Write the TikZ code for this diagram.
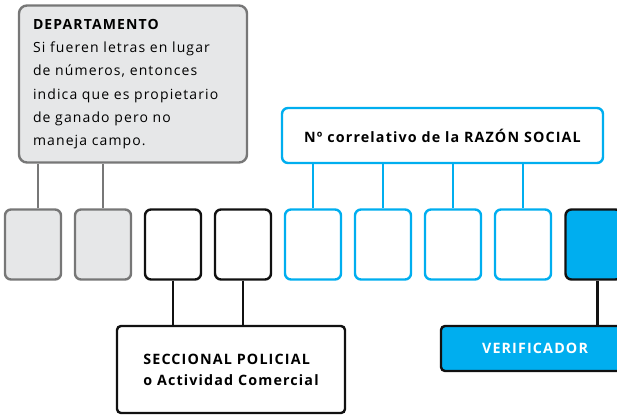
\documentclass[tikz,border=0pt]{standalone}
\usepackage{fontspec}
\setmainfont{Open Sans}[LetterSpace=8]
\usepackage{xcolor}

\definecolor{boxgray}{HTML}{E6E7E8}
\definecolor{linegray}{HTML}{777777}
\definecolor{skyblue}{HTML}{00AEEF}
\definecolor{inkblack}{HTML}{111111}

\tikzset{
  cell/.style={draw, line width=2.4pt, rounded corners=6pt,
    minimum width=56pt, minimum height=70pt, inner sep=0pt},
  graycell/.style={cell, draw=linegray, fill=boxgray},
  blackcell/.style={cell, draw=inkblack, fill=white},
  bluecell/.style={cell, draw=skyblue, fill=white},
  label/.style={draw, line width=2.4pt, rounded corners=6pt, inner sep=0pt},
  boldtext/.style={font=\fontsize{14.3}{21}\selectfont\bfseries},
  grayline/.style={draw=linegray, line width=2.4pt},
  blueline/.style={draw=skyblue, line width=2.4pt},
  blackline/.style={draw=inkblack, line width=2.4pt}
}

\begin{document}
\begin{tikzpicture}[x=1pt, y=-1pt, font=\fontsize{14}{23.3}\selectfont]
            \useasboundingbox (0,0) rectangle (617,415);
            \clip (0,0) rectangle (617,415);

            % Cuadro del departamento
            \node[label, draw=linegray, fill=boxgray, rounded corners=8pt,
              minimum width=228pt, minimum height=157pt,
              text width=200pt, align=left] (dep) at (133,84)
              {\textbf{DEPARTAMENTO}\\
               Si fueren letras en lugar\\
               de números, entonces\\
               indica que es propietario\\
               de ganado pero no\\
               maneja campo.};

            % Cuadro de la razon social
            \node[label, draw=skyblue, fill=white, minimum width=321pt,
              minimum height=55pt, boldtext] (raz) at (442.5,135.5)
              {Nº correlativo de la RAZÓN SOCIAL};

            % Casilleros
            \node[graycell] (c1) at (33,244.5) {};
            \node[graycell] (c2) at (103,244.5) {};
            \node[blackcell] (c3) at (173,244.5) {};
            \node[blackcell] (c4) at (243,244.5) {};
            \node[bluecell] (c5) at (313,244.5) {};
            \node[bluecell] (c6) at (383,244.5) {};
            \node[bluecell] (c7) at (453,244.5) {};
            \node[bluecell] (c8) at (523,244.5) {};
            \node[cell, draw=inkblack, fill=skyblue] (c9) at (593.5,244.5) {};

            % Cuadros de abajo
            \node[label, draw=inkblack, fill=white, rounded corners=4pt,
              minimum width=228pt, minimum height=87pt, align=left,
              boldtext] (sec) at (231,369.5)
              {SECCIONAL POLICIAL\\o Actividad Comercial};
            \node[label, draw=inkblack, fill=skyblue, rounded corners=4pt,
              minimum width=188pt, minimum height=45pt, text=white,
              boldtext] (ver) at (535,348.5)
              {VERIFICADOR};

            % Lineas
            \draw[grayline] ([xshift=5pt]c1.north) -- ([xshift=5pt]c1.north |- dep.south);
            \draw[grayline] (c2.north) -- (c2.north |- dep.south);

            \draw[blueline] (c5.north) -- (c5.north |- raz.south);
            \draw[blueline] (c6.north) -- (c6.north |- raz.south);
            \draw[blueline] (c7.north) -- (c7.north |- raz.south);
            \draw[blueline] (c8.north) -- (c8.north |- raz.south);

            \draw[blackline] (c3.south) -- (c3.south |- sec.north);
            \draw[blackline] (c4.south) -- (c4.south |- sec.north);
            \draw[blackline] ([xshift=4pt]c9.south) -- ([xshift=4pt]c9.south |- ver.north);
        \end{tikzpicture}
\end{document}
